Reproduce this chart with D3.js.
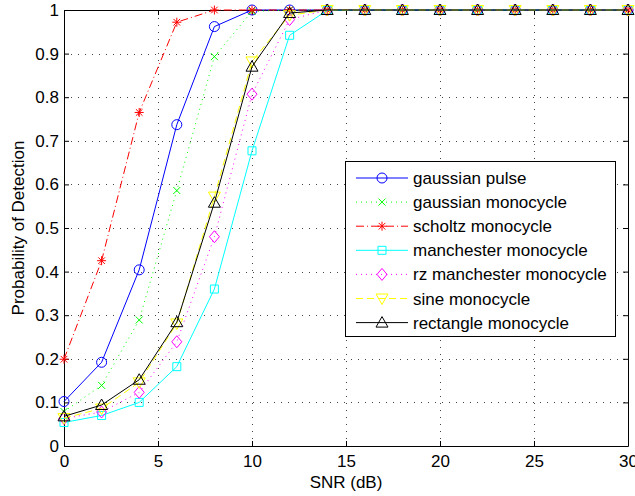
<!DOCTYPE html>
<html>
<head>
<meta charset="utf-8">
<script src="https://cdn.jsdelivr.net/npm/d3@7"></script>
<style>
  body { margin: 0; background: #fff; }
  text { font-family: "Liberation Sans", Arial, sans-serif; }
</style>
</head>
<body>
<div id="chart"></div>
<script>
// data
const snr = [0, 2, 4, 6, 8, 10, 12, 14, 16, 18, 20, 22, 24, 26, 28, 30]
const gaussianPulse = [0.102, 0.192, 0.404, 0.737, 0.962, 1, 1, 1, 1, 1, 1, 1, 1, 1, 1, 1]
const gaussianMono = [0.079, 0.139, 0.289, 0.586, 0.893, 0.997, 1, 1, 1, 1, 1, 1, 1, 1, 1, 1]
const scholtzMono = [0.199, 0.425, 0.765, 0.972, 1, 1, 1, 1, 1, 1, 1, 1, 1, 1, 1, 1]
const manchesterMono = [0.054, 0.07, 0.1, 0.182, 0.36, 0.677, 0.942, 0.999, 1, 1, 1, 1, 1, 1, 1, 1]
const rzManchesterMono = [0.063, 0.078, 0.123, 0.239, 0.48, 0.807, 0.978, 1, 1, 1, 1, 1, 1, 1, 1, 1]
const sineMono = [0.064, 0.086, 0.146, 0.281, 0.572, 0.882, 0.988, 1, 1, 1, 1, 1, 1, 1, 1, 1]
const rectangleMono = [0.068, 0.094, 0.152, 0.284, 0.558, 0.87, 0.993, 1, 1, 1, 1, 1, 1, 1, 1, 1]
const xTicks = [0, 5, 10, 15, 20, 25, 30]
const yTicks = [0, 0.1, 0.2, 0.3, 0.4, 0.5, 0.6, 0.7, 0.8, 0.9, 1]

const series = [
  {name: 'gaussian pulse', values: gaussianPulse, color: '#0000ff', dash: null, marker: 'circle'},
  {name: 'gaussian monocycle', values: gaussianMono, color: '#00ff00', dash: '1,4', marker: 'x'},
  {name: 'scholtz monocycle', values: scholtzMono, color: '#ff0000', dash: '8,3,1,3', marker: 'star'},
  {name: 'manchester monocycle', values: manchesterMono, color: '#00ffff', dash: null, marker: 'square'},
  {name: 'rz manchester monocycle', values: rzManchesterMono, color: '#ff00ff', dash: '1,4', marker: 'diamond'},
  {name: 'sine monocycle', values: sineMono, color: '#ffff00', dash: '7,4', marker: 'tridown'},
  {name: 'rectangle monocycle', values: rectangleMono, color: '#000000', dash: null, marker: 'triup'}
]

const width = 635
const height = 496
const margin = {left: 64, top: 10, right: 7, bottom: 50}
const fontSize = '17px'

const svg = d3.select('#chart').append('svg')
  .attr('width', width)
  .attr('height', height)

const x = d3.scaleLinear().domain([0, 30]).range([margin.left, width - margin.right])
const y = d3.scaleLinear().domain([0, 1]).range([height - margin.bottom, margin.top])

// grid
const grid = svg.append('g')
  .attr('stroke', '#444')
  .attr('stroke-width', 1)
  .attr('stroke-dasharray', '1,6')
grid.selectAll('.gx').data(xTicks.slice(1, -1)).join('line')
  .attr('x1', d => Math.round(x(d)) + 0.5).attr('x2', d => Math.round(x(d)) + 0.5)
  .attr('y1', y(0)).attr('y2', y(1))
grid.selectAll('.gy').data(yTicks.slice(1, -1)).join('line')
  .attr('y1', d => Math.round(y(d)) + 0.5).attr('y2', d => Math.round(y(d)) + 0.5)
  .attr('x1', x(0)).attr('x2', x(30))

// axes, ticks pointing inwards
const fmt = d => d === 0 || d === 1 ? String(d) : d3.format('.1f')(d)
const axisStyle = g => {
  g.select('.domain').attr('stroke', '#000')
  g.selectAll('.tick line').attr('stroke', '#000')
  g.selectAll('.tick text').attr('fill', '#000').style('font-size', fontSize)
}
svg.append('g')
  .attr('transform', `translate(0,${y(0)})`)
  .call(d3.axisBottom(x).tickValues(xTicks).tickSize(-5).tickSizeOuter(0).tickPadding(9))
  .call(axisStyle)
svg.append('g')
  .attr('transform', `translate(0,${y(1)})`)
  .call(d3.axisTop(x).tickValues(xTicks).tickSize(-5).tickSizeOuter(0).tickFormat(''))
  .call(axisStyle)
svg.append('g')
  .attr('transform', `translate(${x(0)},0)`)
  .call(d3.axisLeft(y).tickValues(yTicks).tickSize(-5).tickSizeOuter(0).tickPadding(5).tickFormat(fmt))
  .call(axisStyle)
svg.append('g')
  .attr('transform', `translate(${x(30)},0)`)
  .call(d3.axisRight(y).tickValues(yTicks).tickSize(-5).tickSizeOuter(0).tickFormat(''))
  .call(axisStyle)

// marker shapes, MATLAB style
function drawMarker (g, type, cx, cy, color) {
  const m = g.append('path')
    .attr('fill', 'none')
    .attr('stroke', color)
    .attr('stroke-width', 1)
  let p = ''
  if (type === 'circle') {
    p = d3.arc()({innerRadius: 0, outerRadius: 5, startAngle: 0, endAngle: 2 * Math.PI})
  } else if (type === 'square') {
    p = 'M-4,-4H4V4H-4Z'
  } else if (type === 'diamond') {
    p = 'M0,-6L5,0L0,6L-5,0Z'
  } else if (type === 'triup') {
    p = 'M0,-6L6,4.5H-6Z'
  } else if (type === 'tridown') {
    p = 'M0,6L6,-4.5H-6Z'
  } else if (type === 'x') {
    p = 'M-3.5,-3.5L3.5,3.5M-3.5,3.5L3.5,-3.5'
  } else if (type === 'star') {
    p = 'M-4.5,0H4.5M0,-4.5V4.5M-3.3,-3.3L3.3,3.3M-3.3,3.3L3.3,-3.3'
  }
  m.attr('d', p).attr('transform', `translate(${cx},${cy})`)
}

const line = d3.line().x(d => x(d[0])).y(d => y(d[1]))
const plot = svg.append('g')
series.forEach(s => {
  const pts = snr.map((v, i) => [v, s.values[i]])
  plot.append('path')
    .attr('d', line(pts))
    .attr('fill', 'none')
    .attr('stroke', s.color)
    .attr('stroke-width', 1)
    .attr('stroke-dasharray', s.dash)
  pts.forEach(p => drawMarker(plot, s.marker, x(p[0]), y(p[1]), s.color))
})

// axis titles
svg.append('text')
  .attr('x', (x(0) + x(30)) / 2)
  .attr('y', 488)
  .attr('text-anchor', 'middle')
  .style('font-size', fontSize)
  .text('SNR (dB)')
svg.append('text')
  .attr('transform', `translate(24,${(y(0) + y(1)) / 2}) rotate(-90)`)
  .attr('text-anchor', 'middle')
  .style('font-size', fontSize)
  .text('Probability of Detection')

// legend
const legend = svg.append('g')
legend.append('rect')
  .attr('x', 345.5).attr('y', 161.5)
  .attr('width', 270).attr('height', 175)
  .attr('fill', '#fff').attr('stroke', '#000')
series.forEach((s, i) => {
  const ly = 178 + i * 24.1
  legend.append('line')
    .attr('x1', 356).attr('x2', 408).attr('y1', ly).attr('y2', ly)
    .attr('stroke', s.color).attr('stroke-dasharray', s.dash)
  drawMarker(legend, s.marker, 382, ly, s.color)
  legend.append('text')
    .attr('x', 413).attr('y', ly + 6)
    .style('font-size', fontSize)
    .text(s.name)
})
</script>
</body>
</html>
